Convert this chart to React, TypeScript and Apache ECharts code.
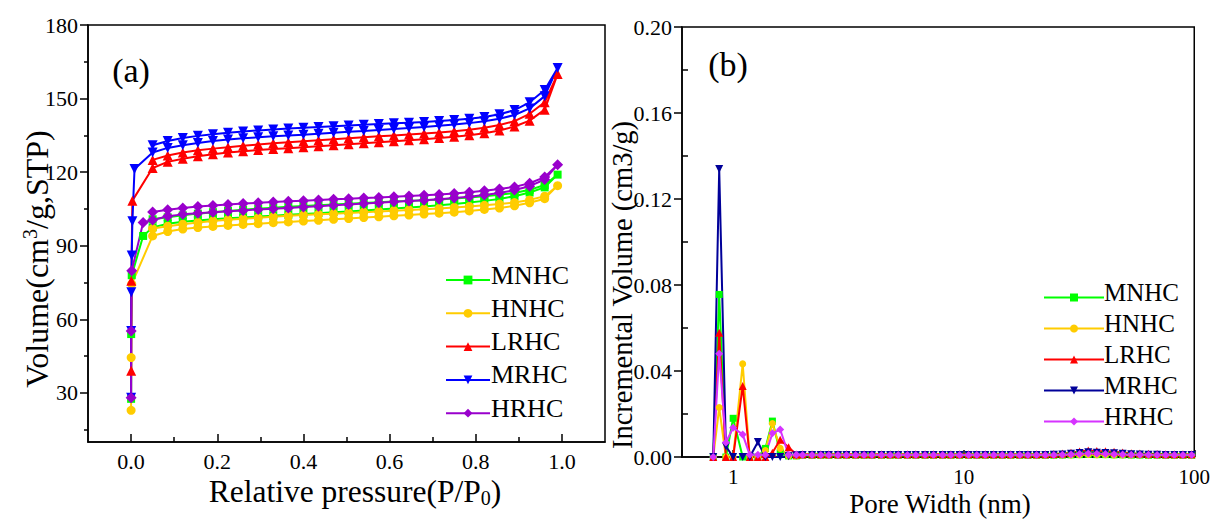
import React, { useEffect, useRef } from "react";
import * as echarts from "echarts";

const FONT = "Liberation Serif";

// ---------- (a) N2 adsorption/desorption isotherms ----------
const seriesNames = ["MNHC", "HNHC", "LRHC", "MRHC", "HRHC"];

const lowP = [0.00005, 0.0002, 0.0006, 0.0015, 0.003, 0.008, 0.028];
const adsP = [0.05, 0.085, 0.12, 0.155, 0.19, 0.225, 0.26, 0.295, 0.33, 0.365, 0.4, 0.435, 0.47, 0.505, 0.54, 0.575, 0.61, 0.645, 0.68, 0.715, 0.75, 0.785, 0.82, 0.855, 0.89, 0.925, 0.96, 0.99];
const desP = [0.96, 0.925, 0.89, 0.855, 0.82, 0.785, 0.75, 0.715, 0.68, 0.645, 0.61, 0.575, 0.54, 0.505, 0.47, 0.435, 0.4, 0.365, 0.33, 0.295, 0.26, 0.225, 0.19, 0.155, 0.12, 0.085, 0.05];

const mnhcLow = [27.6, 54, null, 78, null, null, 94];
const mnhcAds = [97.5, 99, 99.8, 100.3, 100.8, 101.2, 101.5, 101.9, 102.2, 102.6, 103, 103.3, 103.7, 104, 104.4, 104.8, 105.2, 105.6, 106, 106.5, 107, 107.6, 108.3, 109.1, 110.2, 111.7, 113.8, 119];
const mnhcDes = [114.8, 112.8, 111.5, 110.8, 110.2, 109.7, 109.3, 108.9, 108.6, 108.3, 108, 107.7, 107.4, 107.1, 106.8, 106.5, 106.2, 105.9, 105.5, 105.1, 104.7, 104.2, 103.7, 103.1, 102.4, 101.6, 100.8];

const hnhcLow = [22.9, 44.4, null, 74.4, null, null, null];
const hnhcAds = [94, 95.8, 96.8, 97.4, 97.9, 98.3, 98.7, 99, 99.4, 99.7, 100.1, 100.4, 100.8, 101.1, 101.5, 101.8, 102.2, 102.5, 102.9, 103.3, 103.7, 104.2, 104.8, 105.4, 106.3, 107.5, 109.2, 114.5];
const hnhcDes = [110.2, 108.7, 107.6, 107, 106.5, 106, 105.6, 105.2, 104.9, 104.6, 104.3, 104, 103.7, 103.4, 103.1, 102.8, 102.5, 102.2, 101.8, 101.4, 101, 100.6, 100.1, 99.5, 98.8, 98, 97];

const lrhcLow = [null, 39, 75.7, null, 108.4, null, null];
const lrhcAds = [121.7, 124.2, 125.5, 126.5, 127.3, 128, 128.5, 129, 129.4, 129.8, 130.2, 130.6, 131, 131.4, 131.8, 132.2, 132.6, 133, 133.4, 133.9, 134.4, 135.1, 135.9, 137, 138.6, 141, 145.5, 160];
const lrhcDes = [148.5, 143.8, 140.8, 139.2, 138.1, 137.3, 136.7, 136.2, 135.8, 135.4, 135, 134.6, 134.2, 133.8, 133.4, 133, 132.6, 132.2, 131.8, 131.3, 130.8, 130.2, 129.6, 128.9, 128, 126.8, 125];

const mrhcLow = [28, 55.3, 71, 86, 100, 121.3, null];
const mrhcAds = [128, 129.9, 131, 131.9, 132.7, 133.3, 133.8, 134.2, 134.6, 135, 135.3, 135.7, 136.1, 136.5, 136.8, 137.2, 137.6, 138, 138.4, 138.9, 139.4, 140, 140.8, 141.8, 143.3, 146, 151, 162.5];
const mrhcDes = [153.5, 148.5, 145.3, 143.6, 142.5, 141.8, 141.3, 140.9, 140.5, 140.2, 139.9, 139.6, 139.3, 139, 138.7, 138.4, 138.1, 137.8, 137.4, 137, 136.6, 136.1, 135.5, 134.8, 133.9, 132.7, 131];

const hrhcLow = [28, 55.3, null, 79.8, null, null, 99.5];
const hrhcAds = [100.5, 102, 102.8, 103.3, 103.7, 104.1, 104.4, 104.8, 105.1, 105.4, 105.8, 106.1, 106.5, 106.8, 107.2, 107.5, 107.9, 108.2, 108.6, 109, 109.5, 110, 110.7, 111.5, 112.7, 114.3, 117, 123];
const hrhcDes = [118, 115.5, 114, 113.1, 112.4, 111.8, 111.3, 110.9, 110.6, 110.3, 110, 109.7, 109.5, 109.2, 109, 108.7, 108.4, 108.1, 107.8, 107.5, 107.2, 106.8, 106.4, 106, 105.4, 104.7, 103.8];

const yTicksA = [30, 60, 90, 120, 150, 180];
const yMinorA = [15, 45, 75, 105, 135, 165];
const xTicksA = [0, 0.2, 0.4, 0.6, 0.8, 1.0];
const xMinorA = [0.1, 0.3, 0.5, 0.7, 0.9];

// ---------- (b) pore size distribution ----------
const poreWidth = [0.82, 0.87, 0.93, 1.0, 1.1, 1.18, 1.28, 1.38, 1.48, 1.6, 1.74, 1.88,
  2.0, 2.2, 2.4, 2.6, 2.85, 3.1, 3.4, 3.7, 4.0, 4.4, 4.8, 5.2, 5.7, 6.2, 6.8, 7.4, 8.1, 8.8, 9.6, 10.5,
  11.4, 12.4, 13.5, 14.7, 16, 17.5, 19, 20.7, 22.6, 24.6, 26.8, 29.2, 31.8, 34.7, 37.8, 41.2, 44.9, 48.9,
  53.3, 58.1, 63.3, 69, 75.2, 82, 89.3, 97.4];

const mnhcPsd = [0, 0.0756, 0, 0.018, 0, 0, 0, 0.004, 0.0167, 0.002, 0.0005, 0.0005,
  0.0008, 0.0008, 0.0008, 0.0008, 0.0008, 0.0008, 0.0008, 0.0008, 0.0008, 0.0008, 0.0008, 0.0008, 0.0008, 0.0008, 0.0008, 0.0008, 0.0008, 0.0008, 0.0008, 0.0008,
  0.0008, 0.0008, 0.0008, 0.0008, 0.0008, 0.0008, 0.0008, 0.0008, 0.0008, 0.0008, 0.0009, 0.001, 0.0011, 0.0012, 0.0011, 0.0011, 0.001, 0.001,
  0.0009, 0.0009, 0.0008, 0.0008, 0.0008, 0.0008, 0.0008, 0.0008];
const hnhcPsd = [0, 0.023, 0, 0, 0.0433, 0, 0, 0.003, 0.0156, 0.004, 0.0005, 0.0005,
  0.0008, 0.0008, 0.0008, 0.0008, 0.0008, 0.0008, 0.0008, 0.0008, 0.0008, 0.0008, 0.0008, 0.0008, 0.0008, 0.0008, 0.0008, 0.0008, 0.0008, 0.0008, 0.0008, 0.0008,
  0.0008, 0.0008, 0.0008, 0.0008, 0.0008, 0.0008, 0.0008, 0.0008, 0.0008, 0.0008, 0.0009, 0.001, 0.0011, 0.0012, 0.0011, 0.0011, 0.001, 0.001,
  0.0009, 0.0009, 0.0008, 0.0008, 0.0008, 0.0008, 0.0008, 0.0008];
const lrhcPsd = [0, 0.0578, 0, 0, 0.033, 0, 0, 0, 0.002, 0.008, 0.0045, 0.0012,
  0.0013, 0.0013, 0.0013, 0.0013, 0.0013, 0.0013, 0.0013, 0.0013, 0.0013, 0.0013, 0.0013, 0.0013, 0.0013, 0.0013, 0.0013, 0.0013, 0.0013, 0.0013, 0.0013, 0.0013,
  0.0013, 0.0013, 0.0013, 0.0013, 0.0013, 0.0013, 0.0013, 0.0013, 0.0013, 0.0014, 0.0016, 0.002, 0.0026, 0.003, 0.0028, 0.0027, 0.0024, 0.0021,
  0.0018, 0.0016, 0.0015, 0.0014, 0.0013, 0.0013, 0.0013, 0.0013];
const mrhcPsd = [0, 0.134, 0.005, 0, 0, 0, 0.007, 0, 0, 0, 0.0003, 0.0008,
  0.0009, 0.0009, 0.0009, 0.0009, 0.0009, 0.0009, 0.0009, 0.0009, 0.0009, 0.0009, 0.0009, 0.0009, 0.0009, 0.0009, 0.0009, 0.0009, 0.0009, 0.0009, 0.0009, 0.0009,
  0.0009, 0.0009, 0.0009, 0.0009, 0.0009, 0.0009, 0.0009, 0.0009, 0.0009, 0.001, 0.0012, 0.0015, 0.0019, 0.0022, 0.002, 0.0019, 0.0017, 0.0015,
  0.0013, 0.0012, 0.0011, 0.001, 0.0009, 0.0009, 0.0009, 0.0009];
const hrhcPsd = [0, 0.048, 0.0068, 0.0136, 0.0105, 0.001, 0.001, 0.001, 0.011, 0.0128, 0.001, 0.001,
  0.0009, 0.0009, 0.0009, 0.0009, 0.0009, 0.0009, 0.0009, 0.0009, 0.0009, 0.0009, 0.0009, 0.0009, 0.0009, 0.0009, 0.0009, 0.0009, 0.0009, 0.0009, 0.0009, 0.0009,
  0.0009, 0.0009, 0.0009, 0.0009, 0.0009, 0.0009, 0.0009, 0.0009, 0.0009, 0.0009, 0.001, 0.0012, 0.0014, 0.0016, 0.0015, 0.0014, 0.0013, 0.0012,
  0.0011, 0.001, 0.001, 0.0009, 0.0009, 0.0009, 0.0009, 0.0009];

const yMinorB = [0.02, 0.06, 0.1, 0.14, 0.18];

const leftColors = ["#00ff00", "#ffcc00", "#ff0000", "#0000ff", "#9900cc"];
const rightColors = ["#00ff00", "#ffcc00", "#ff0000", "#000099", "#d633ff"];
const symbols = ["rect", "circle", "triangle", "path://M0,0L10,0L5,10Z", "diamond"];
const symSizeA = [8, 9, 10, 10, 11];
const symSizeB = [7, 7, 8, 8, 8];

function isotherm(low: (number | null)[], ads: number[], des: number[]) {
  const pts: number[][] = [];
  low.forEach((v, i) => { if (v !== null) pts.push([lowP[i], v]); });
  ads.forEach((v, i) => pts.push([adsP[i], v]));
  des.forEach((v, i) => pts.push([desP[i], v]));
  return pts;
}

const black = "#000";
const lineBlack = { color: black, width: 1.5 };
const axisLineOn = { onZero: false, lineStyle: lineBlack };
const axisLineOff = { show: false, onZero: false };

function txt(x: number, y: number, text: string, size: number, align: string) {
  return { type: "text", x, y, silent: true, style: { text, fontSize: size, fontFamily: FONT, fill: black, align, verticalAlign: "middle" } };
}

function leftOption(): any {
  const data = [
    isotherm(mnhcLow, mnhcAds, mnhcDes),
    isotherm(hnhcLow, hnhcAds, hnhcDes),
    isotherm(lrhcLow, lrhcAds, lrhcDes),
    isotherm(mrhcLow, mrhcAds, mrhcDes),
    isotherm(hrhcLow, hrhcAds, hrhcDes),
  ];
  return {
    animation: false,
    textStyle: { fontFamily: FONT },
    grid: { left: 88, top: 25, width: 517, height: 417, show: true, borderColor: black, borderWidth: 1.5 },
    xAxis: [
      {
        type: "value", min: -0.1, max: 1.1,
        axisLine: axisLineOn,
        axisTick: { inside: true, length: 8, customValues: xTicksA, lineStyle: lineBlack },
        axisLabel: {
          customValues: xTicksA, formatter: (v: number) => v.toFixed(1),
          fontSize: 22, fontFamily: FONT, color: black, margin: 8,
        },
        splitLine: { show: false },
      },
      {
        type: "value", min: -0.1, max: 1.1, position: "bottom", offset: 0,
        axisLine: axisLineOff,
        axisTick: { inside: true, length: 5, customValues: xMinorA, lineStyle: lineBlack },
        axisLabel: { show: false },
        splitLine: { show: false },
      },
    ],
    yAxis: [
      {
        type: "value", min: 10, max: 180,
        axisLine: axisLineOn,
        axisTick: { inside: false, length: 8, customValues: yTicksA, lineStyle: lineBlack },
        axisLabel: { customValues: yTicksA, fontSize: 22, fontFamily: FONT, color: black, margin: 10 },
        splitLine: { show: false },
      },
      {
        type: "value", min: 10, max: 180, position: "left", offset: 0,
        axisLine: axisLineOff,
        axisTick: { inside: false, length: 4, customValues: yMinorA, lineStyle: lineBlack },
        axisLabel: { show: false },
        splitLine: { show: false },
      },
    ],
    legend: {
      orient: "vertical", left: 440, top: 262, itemWidth: 44, itemHeight: 11, itemGap: 7.3,
      formatter: () => " ",
      textStyle: { fontSize: 26, color: black, lineHeight: 26 },
      data: seriesNames,
    },
    series: seriesNames.map((name, i) => ({
      type: "line", name, data: data[i],
      symbol: symbols[i], symbolSize: symSizeA[i],
      lineStyle: { width: 2, color: leftColors[i] },
      itemStyle: { color: leftColors[i] },
      xAxisIndex: 0, yAxisIndex: 0,
    })),
    graphic: [
      txt(131, 70, "(a)", 34, "center"),
      {
        type: "text", x: 37, y: 259, rotation: Math.PI / 2,
        style: {
          text: "{m|Volume(cm}{s|3}{m|/g,STP)}", fill: black, align: "center", verticalAlign: "middle",
          rich: {
            m: { fontSize: 32, fontFamily: FONT, fill: black, lineHeight: 35, verticalAlign: "middle" },
            s: { fontSize: 20, fontFamily: FONT, fill: black, lineHeight: 20, verticalAlign: "top" },
          },
        },
      },
      {
        type: "text", x: 355, y: 491,
        style: {
          text: "{m|Relative pressure(P/P}{s|0}{m|)}", fill: black, align: "center", verticalAlign: "middle",
          rich: {
            m: { fontSize: 31.5, fontFamily: FONT, fill: black, lineHeight: 33, verticalAlign: "middle" },
            s: { fontSize: 20, fontFamily: FONT, fill: black, lineHeight: 20, verticalAlign: "bottom" },
          },
        },
      },
      ...seriesNames.map((n, i) => txt(491, 275 + 33.3 * i, n, 26, "left")),
    ],
  };
}

function isPow10(v: number) {
  const l = Math.log10(v);
  return Math.abs(l - Math.round(l)) < 1e-6;
}

function rightOption(): any {
  const psd = [mnhcPsd, hnhcPsd, lrhcPsd, mrhcPsd, hrhcPsd];
  return {
    animation: false,
    textStyle: { fontFamily: FONT },
    grid: { left: 76, top: 27, width: 514, height: 430, show: true, borderColor: black, borderWidth: 1.5 },
    xAxis: {
      type: "log", logBase: 10, min: 0.6, max: 100,
      axisLine: axisLineOn,
      axisTick: { inside: true, length: 7, lineStyle: lineBlack },
      axisLabel: {
        formatter: (v: number) => (isPow10(v) ? String(Math.round(v)) : ""),
        fontSize: 21, fontFamily: FONT, color: black, margin: 9,
      },
      splitLine: { show: false },
    },
    yAxis: [
      {
        type: "value", min: 0, max: 0.2, interval: 0.04,
        axisLine: axisLineOn,
        axisTick: { inside: false, length: 8, lineStyle: lineBlack },
        axisLabel: { formatter: (v: number) => v.toFixed(2), fontSize: 22, fontFamily: FONT, color: black, margin: 10 },
        splitLine: { show: false },
      },
      {
        type: "value", min: 0, max: 0.2, position: "left", offset: 0,
        axisLine: axisLineOff,
        axisTick: { inside: true, length: 6, customValues: yMinorB, lineStyle: lineBlack },
        axisLabel: { show: false },
        splitLine: { show: false },
      },
    ],
    legend: {
      orient: "vertical", left: 432, top: 280, itemWidth: 60, itemHeight: 10, itemGap: 6,
      formatter: () => " ",
      textStyle: { fontSize: 25, color: black, lineHeight: 25 },
      data: seriesNames,
    },
    series: seriesNames.map((name, i) => ({
      type: "line", name,
      data: poreWidth.map((w, k) => [w, psd[i][k]]),
      symbol: symbols[i], symbolSize: symSizeB[i],
      lineStyle: { width: 2, color: rightColors[i] },
      itemStyle: { color: rightColors[i] },
      yAxisIndex: 0,
    })),
    graphic: [
      txt(122, 64, "(b)", 34, "center"),
      {
        type: "text", x: 16, y: 285, rotation: Math.PI / 2,
        style: { text: "Incremental Volume (cm3/g)", fontSize: 28.5, fontFamily: FONT, fill: black, align: "center", verticalAlign: "middle" },
      },
      txt(334, 504, "Pore Width (nm)", 27, "center"),
      ...seriesNames.map((n, i) => txt(498, 292.7 + 31 * i, n, 25, "left")),
    ],
  };
}

export default function App() {
  const leftRef = useRef<HTMLDivElement>(null);
  const rightRef = useRef<HTMLDivElement>(null);
  useEffect(() => {
    const l = echarts.init(leftRef.current!, undefined, { renderer: "svg" });
    const r = echarts.init(rightRef.current!, undefined, { renderer: "svg" });
    l.setOption(leftOption());
    r.setOption(rightOption());
    return () => {
      l.dispose();
      r.dispose();
    };
  }, []);
  return (
    <div style={{ position: "absolute", left: 0, top: 0, width: 1213, height: 520, background: "#fff" }}>
      <div ref={leftRef} style={{ position: "absolute", left: 0, top: 0, width: 606, height: 520 }} />
      <div ref={rightRef} style={{ position: "absolute", left: 606, top: 0, width: 607, height: 520 }} />
    </div>
  );
}
